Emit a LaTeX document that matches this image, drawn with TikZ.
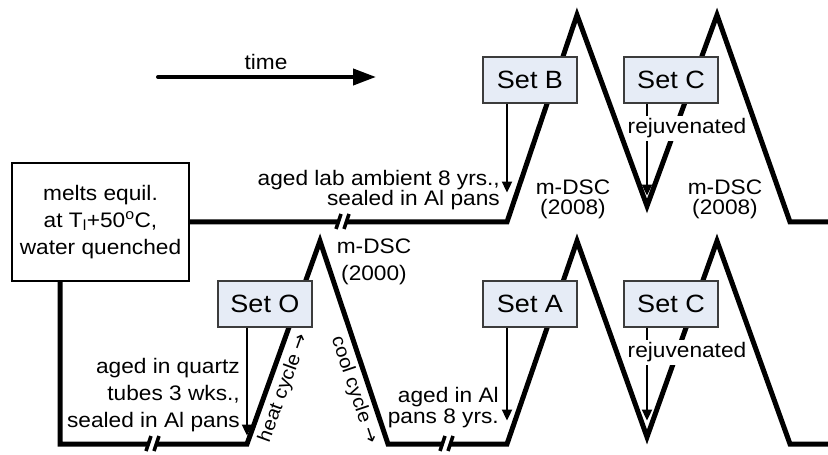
\documentclass[tikz,border=0pt]{standalone}
\usepackage{fontspec}
\setmainfont[FakeStretch=1.08]{Liberation Sans}
\newfontfamily\arrowfont{DejaVu Sans}
\usetikzlibrary{arrows.meta}
\definecolor{boxfill}{RGB}{230,236,246}
\definecolor{boxline}{RGB}{60,60,60}
\newcommand\cutmark[2]{%
  \draw[white,line width=5bp] (#1-3,#2+8) -- (#1+2,#2-8);
  \draw[brk] (#1-7,#2+7) -- (#1-2,#2-8);
  \draw[brk] (#1+1,#2+7) -- (#1+6,#2-8);}
\begin{document}
\begin{tikzpicture}[x=1bp,y=-1bp,
  zig/.style={line width=5bp,line join=miter},
  thinarr/.style={line width=1.8bp,-{Triangle[length=11bp,width=10bp]}},
  setbox/.style={draw=boxline,line width=1.2bp,fill=boxfill,minimum width=94bp,minimum height=46bp,inner sep=0pt,font=\fontsize{25bp}{30bp}\selectfont},
  txt/.style={font=\fontsize{21bp}{27bp}\selectfont,inner sep=0pt},
  tight/.style={font=\fontsize{21bp}{20.5bp}\selectfont,inner sep=0pt},
  small/.style={font=\fontsize{19bp}{23bp}\selectfont,inner sep=0pt},
  brk/.style={line width=3.5bp}]
\useasboundingbox (0,0) rectangle (828,455);
% start box
\node[draw,line width=1.3bp,minimum width=177bp,minimum height=118bp,align=center,txt] (melts) at (100.5,222)
  {melts equil.\\at T\textsubscript{l}+50\textsuperscript{o}C,\\water quenched};
% temperature profiles
\coordinate (b0) at (60,281);
\draw[zig] (melts.east) -- (507,222) -- (577,15) -- (647,206) -- (717,15) -- (790,222) -- (828,222);
\draw[zig] (b0) -- (60,444) -- (247,444) -- (320,241) -- (388,444) -- (507,444) -- (577,241) -- (647,437) -- (717,241) -- (790,444) -- (828,444);
\cutmark{343}{222}
\cutmark{153}{444}
\cutmark{447}{444}
% time arrow
\node[txt,anchor=base] (time) at (266,70) {time};
\coordinate (ts) at (158,77);
\coordinate (te) at (376,77);
\draw[line width=4bp,line cap=round,-{Triangle[length=23bp,width=16bp]}] (ts) -- (te);
% set boxes
\node[setbox] (setB) at (530,80) {Set B};
\node[setbox] (setCt) at (671,80) {Set C};
\node[setbox] (setA) at (530,304) {Set A};
\node[setbox] (setCb) at (671,304) {Set C};
\node[setbox] (setO) at (265,304) {Set O};
% arrows
\draw[thinarr] ([xshift=-23bp]setB.south) -- ++(0,89);
\draw[thinarr] ([xshift=-24bp]setCt.south) -- ++(0,92);
\draw[thinarr] ([xshift=-18bp]setO.south) -- ++(0,108);
\draw[thinarr] ([xshift=-23bp]setA.south) -- ++(0,93);
\draw[thinarr] ([xshift=-24bp]setCb.south) -- ++(0,93);
% labels
\node[txt,fill=white,inner xsep=1bp,inner ysep=3bp,anchor=base] (rejt) at (687,134) {rejuvenated};
\node[txt,fill=white,inner xsep=1bp,inner ysep=3bp,anchor=base] (rejb) at (687,358) {rejuvenated};
\node[tight,anchor=base east,align=right] (agedlab) at (500,206) {aged lab ambient 8 yrs.,\\sealed in Al pans};
\node[tight,anchor=base,align=center] (dscB) at (573,215) {m-DSC\\(2008)};
\node[tight,anchor=base,align=center] (dscC) at (725,215) {m-DSC\\(2008)};
\node[txt,anchor=base,align=center] (dscO) at (374,281) {m-DSC\\(2000)};
\node[txt,anchor=base east,align=right] (agedq) at (240,427) {aged in quartz\\tubes 3 wks.,\\sealed in Al pans};
\node[tight,anchor=base east,align=right] (agedal) at (499,423) {aged in Al\\pans 8 yrs.};
\node[small,rotate=70] (heat) at (284,388) {heat cycle {\arrowfont →}};
\node[small,rotate=-71.5] (cool) at (354,390) {cool cycle {\arrowfont →}};
\end{tikzpicture}
\end{document}
